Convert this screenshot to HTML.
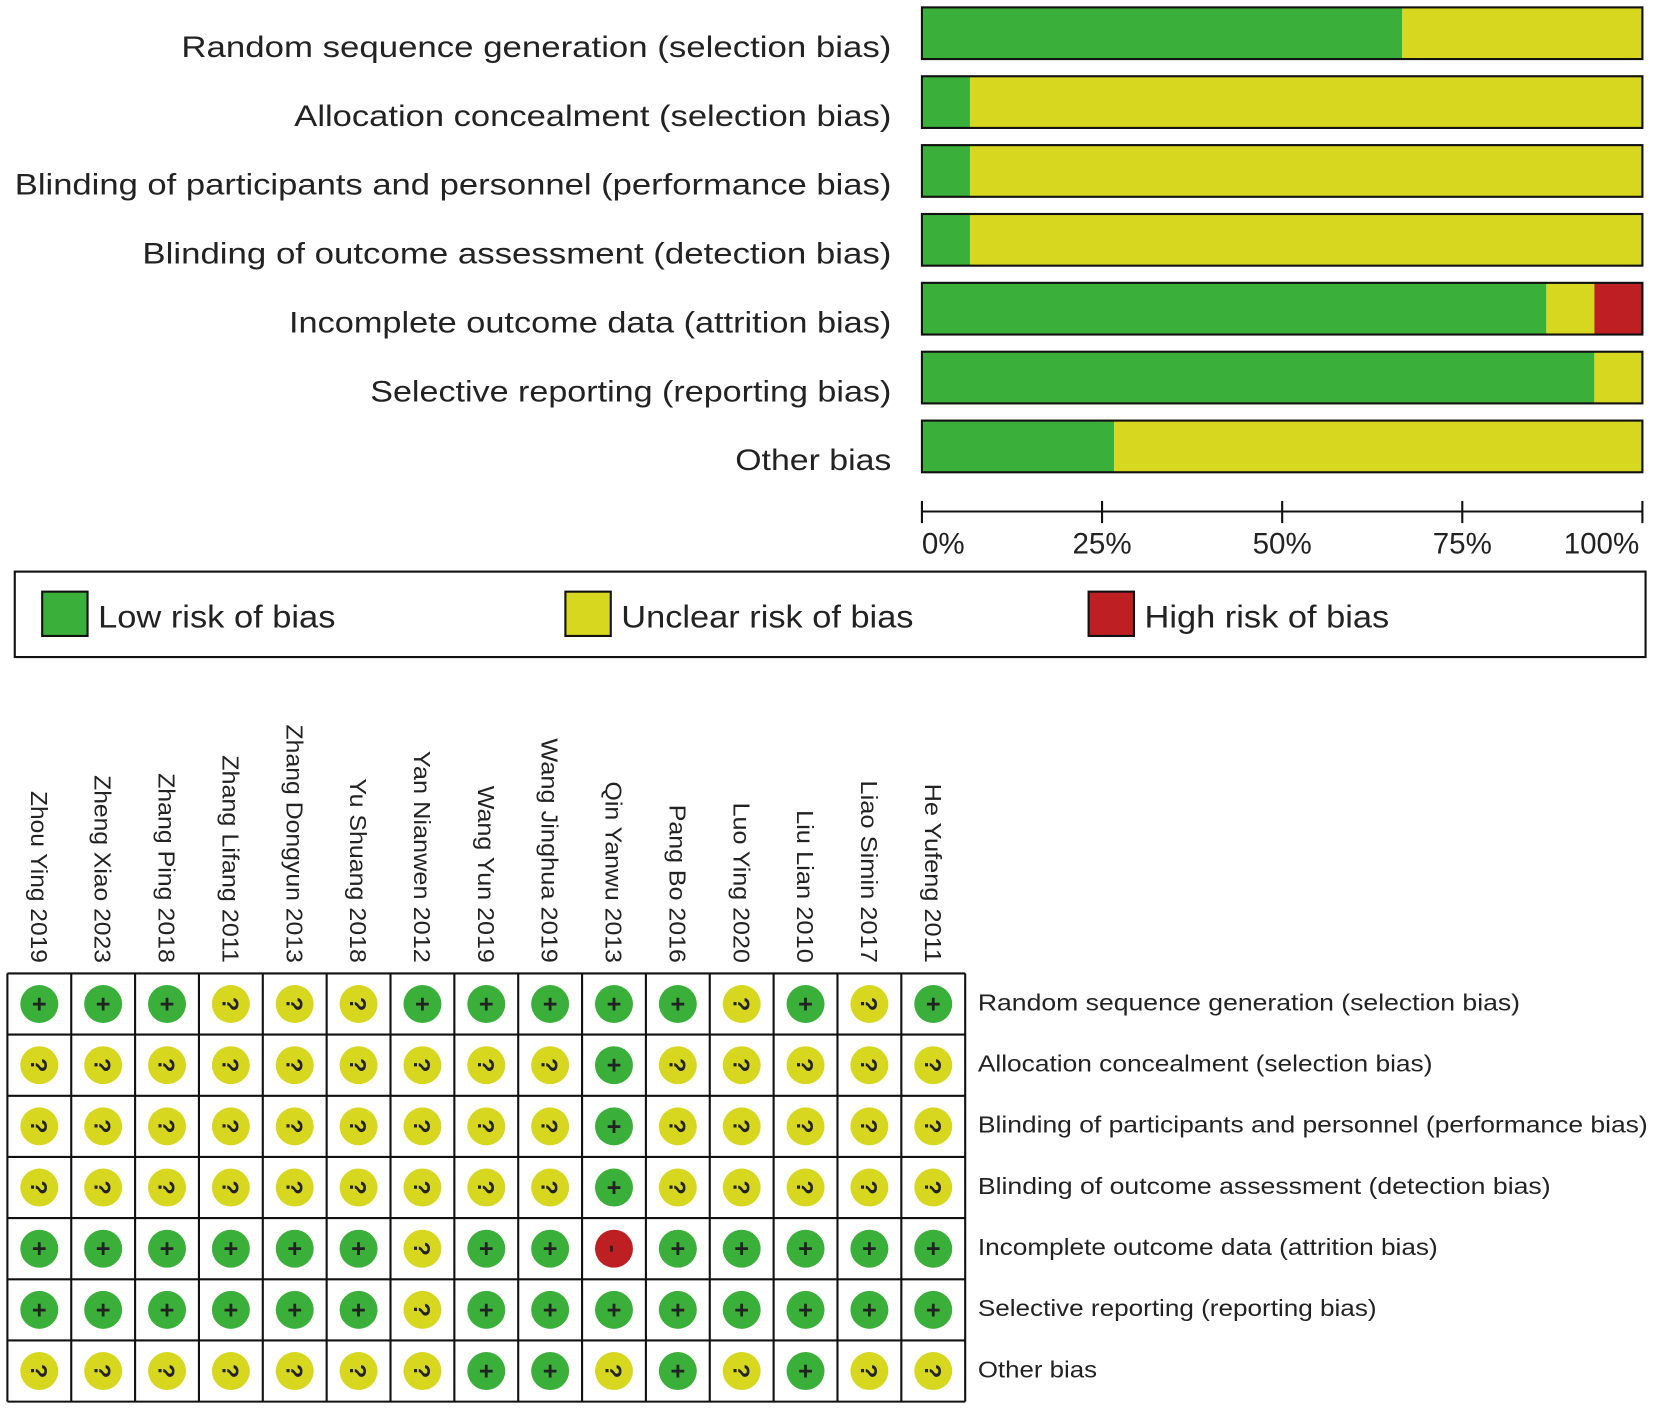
<!DOCTYPE html>
<html><head><meta charset="utf-8"><style>
html,body{margin:0;padding:0;background:#fff;width:1654px;height:1409px;overflow:hidden}
svg{display:block}
text{font-family:"Liberation Sans",sans-serif;fill:#222}
</style></head><body>
<svg id="chart" width="1654" height="1409" viewBox="0 0 1568 1336" preserveAspectRatio="none" xmlns="http://www.w3.org/2000/svg"></svg>
<script>
const domains = ["Random sequence generation (selection bias)","Allocation concealment (selection bias)","Blinding of participants and personnel (performance bias)","Blinding of outcome assessment (detection bias)","Incomplete outcome data (attrition bias)","Selective reporting (reporting bias)","Other bias"];
const studies = ["Zhou Ying 2019","Zheng Xiao 2023","Zhang Ping 2018","Zhang Lifang 2011","Zhang Dongyun 2013","Yu Shuang 2018","Yan Nianwen 2012","Wang Yun 2019","Wang Jinghua 2019","Qin Yanwu 2013","Pang Bo 2016","Luo Ying 2020","Liu Lian 2010","Liao Simin 2017","He Yufeng 2011"];
// judgements per domain (row), one entry per study: + low, ? unclear, - high
const judgements = [
["+","+","+","?","?","?","+","+","+","+","+","?","+","?","+"],
"?????????+?????".split(""),
"?????????+?????".split(""),
"?????????+?????".split(""),
"++++++?++-+++++".split(""),
"++++++?++++++++".split(""),
"???????++?+?+??".split("")
];
const tickLabels = ["0%","25%","50%","75%","100%"];
const tickValues = [0,25,50,75,100];
const legendLabels = ["Low risk of bias","Unclear risk of bias","High risk of bias"];

const topLabelLen=[673,566,831,710,571,494,148];
const rowLabelLen=[514,431,635,543,436,378,113];
const colLabelLen=[163,178,180,197,226,175,201,168,213,172,150,152,145,173,170];
const legendLen=[225,277,232];
const COL={"+":"#3aaf3a","?":"#d7d71f","-":"#bd1f22"};
const svg=document.getElementById('chart');
const NS="http://www.w3.org/2000/svg";
function el(t,a,txt){const e=document.createElementNS(NS,t);for(const k in a)e.setAttribute(k,a[k]);if(txt!=null)e.textContent=txt;svg.appendChild(e);return e;}
const x0=874,x1=1557;
const xs=v=>x0+(x1-x0)*v/100;
domains.forEach((d,i)=>{
  const y=7+i*65.3;
  const t=el('text',{x:845,y:y+47,'text-anchor':'end','font-size':28,textLength:topLabelLen[i],lengthAdjust:'spacingAndGlyphs',fill:'#3a3a3a'},d);
  
  
  const n=judgements[i].length;
  let acc=0;
  ["+","?","-"].forEach(k=>{
    const c=judgements[i].filter(j=>j===k).length;
    if(!c)return;
    const p=100*c/n;
    const r=el('rect',{x:xs(acc),y:y,width:xs(acc+p)-xs(acc),height:49,fill:COL[k]});
    
    
    acc+=p;
  });
  const b=el('rect',{x:x0,y:y,width:x1-x0,height:49,fill:'none',stroke:'#111','stroke-width':2});
  
  
});
const ax=el('line',{x1:x0,x2:x1,y1:485,y2:485,stroke:'#111','stroke-width':2});


tickValues.forEach((v,i)=>{
  const tk=el('line',{x1:xs(v),x2:xs(v),y1:475,y2:496,stroke:'#111','stroke-width':2});
  
  
  const anchor=i===0?'start':i===tickValues.length-1?'end':'middle';
  const lt=el('text',{x:xs(v)+(i===tickValues.length-1?-3:0),y:525,'text-anchor':anchor,'font-size':28,fill:'#222'},tickLabels[i]);
  
  
});
const lb=el('rect',{x:14,y:542,width:1546,height:81,fill:'none',stroke:'#111','stroke-width':2});


["+","?","-"].forEach((k,i)=>{
  const lx=40+i*496;
  const s=el('rect',{x:lx,y:561,width:43,height:42,fill:COL[k],stroke:'#111','stroke-width':2});
  
  
  const t=el('text',{x:lx+53,y:595,'font-size':30,textLength:legendLen[i],lengthAdjust:'spacingAndGlyphs',fill:'#222'},legendLabels[i]);
  
  
});
const gx=7,gy=923,cw=(915-7)/15,rh=(1329-923)/7;
studies.forEach((s,c)=>{
  const cx=gx+cw*(c+0.5);
  const t=el('text',{x:0,y:0,'font-size':22,textLength:colLabelLen[c],lengthAdjust:'spacingAndGlyphs','text-anchor':'end',transform:`translate(${cx-8},913) rotate(90)`,fill:'#222'},s);
  
  
});
domains.forEach((d,r)=>{
  const cy=gy+rh*(r+0.5);
  const t=el('text',{x:927,y:cy+6,'font-size':22,textLength:rowLabelLen[r],lengthAdjust:'spacingAndGlyphs',fill:'#222'},d);
  
  
  judgements[r].forEach((j,c)=>{
    const cx=gx+cw*(c+0.5);
    const ci=el('circle',{cx:cx,cy:cy,r:18,fill:COL[j]});
    
    
    const sym=j==='+'?'+':j==='?'?'?':'-';
    const st=el('text',{x:0,y:0,'font-size':j==='+'?24:22,'font-weight':'bold','text-anchor':'middle',fill:'#000',transform:`translate(${cx},${cy}) rotate(${j==='+'?0:90}) translate(0,8)`},sym);
    
    
  });
});
for(let c=0;c<=15;c++){const l=el('line',{x1:gx+cw*c,x2:gx+cw*c,y1:gy,y2:1329,stroke:'#111','stroke-width':2});}
for(let r=0;r<=7;r++){const l=el('line',{x1:gx,x2:915,y1:gy+rh*r,y2:gy+rh*r,stroke:'#111','stroke-width':2});}
</script>
</body></html>
